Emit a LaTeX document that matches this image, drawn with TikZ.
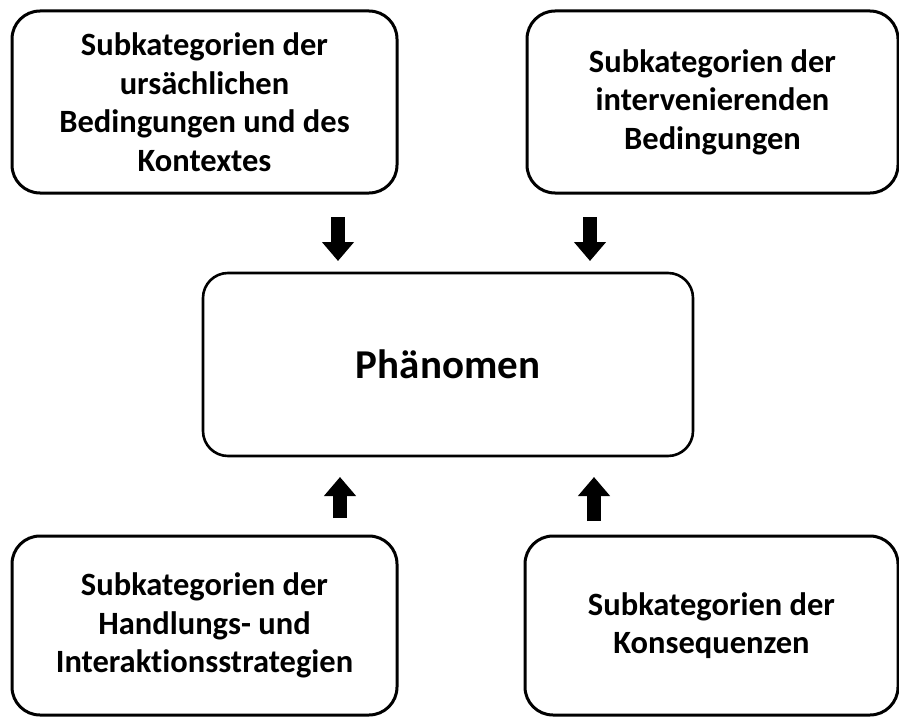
\documentclass[tikz,border=0pt]{standalone}
\usepackage{fontspec}
\setmainfont[Ligatures=NoCommon]{Carlito}
\usetikzlibrary{arrows.meta}
\begin{document}
\begin{tikzpicture}[x=1pt,y=-1pt,
  catbox/.style={draw=black, line width=3pt, rounded corners=28pt, fill=white,
    align=center, inner sep=0pt,
    font=\fontsize{32.5pt}{38.5pt}\selectfont\bfseries},
  corebox/.style={draw=black, line width=2.6pt, rounded corners=25pt, fill=white,
    align=center, inner sep=0pt,
    font=\fontsize{41pt}{48pt}\selectfont\bfseries},
  blockarrow/.style={line width=14pt, draw=black,
    -{Triangle[width=31pt,length=19pt]}}]
  \useasboundingbox (0,0) rectangle (899,717);

  % category boxes around the phenomenon
  \node[catbox, minimum width=385pt, minimum height=182pt] (cause) at (204.5,102)
    {Subkategorien der\\ursächlichen\\Bedingungen und des\\Kontextes};
  \node[catbox, minimum width=371pt, minimum height=182pt] (interv) at (712.5,102)
    {Subkategorien der\\intervenierenden\\Bedingungen};
  \node[corebox, minimum width=490pt, minimum height=183pt] (phen) at (448,364.5)
    {Phänomen};
  \node[catbox, minimum width=385pt, minimum height=179pt] (action) at (204.5,625.5)
    {Subkategorien der\\Handlungs- und\\Interaktionsstrategien};
  \node[catbox, minimum width=373pt, minimum height=179pt] (conseq) at (711.5,625.5)
    {Subkategorien der\\Konsequenzen};

  % block arrows towards the phenomenon
  \coordinate (a1s) at (338,217);
  \coordinate (a1e) at (338,261);
  \coordinate (a2s) at (590,217);
  \coordinate (a2e) at (590,261);
  \coordinate (a3s) at (340,518);
  \coordinate (a3e) at (340,477);
  \coordinate (a4s) at (594,521);
  \coordinate (a4e) at (594,477);
  \draw[blockarrow] (a1s) -- (a1e);
  \draw[blockarrow] (a2s) -- (a2e);
  \draw[blockarrow] (a3s) -- (a3e);
  \draw[blockarrow] (a4s) -- (a4e);
\end{tikzpicture}
\end{document}
